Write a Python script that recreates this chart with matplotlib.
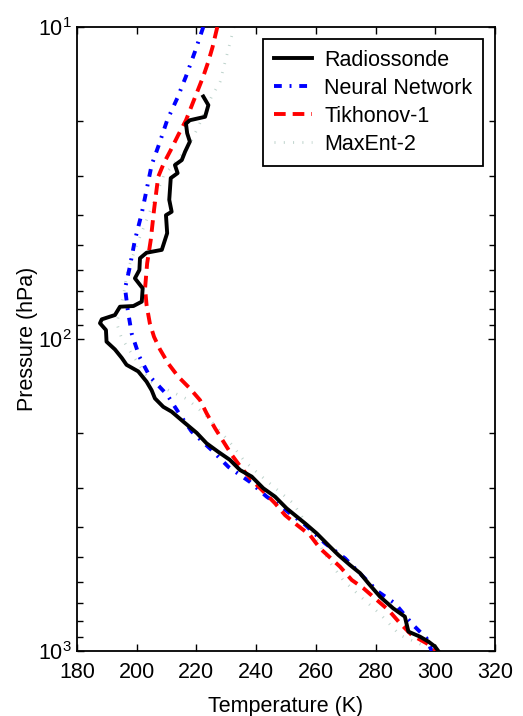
#!/usr/bin/python
# -*- coding: utf-8 -*-
# temperature profile retrieval: radiosonde vs. neural network / Tikhonov / MaxEnt

import numpy as np
import matplotlib as mpl
mpl.use('Agg')
from matplotlib import pyplot as plt
from matplotlib.ticker import FixedLocator, FuncFormatter, LogLocator, NullFormatter

##########################################################################################
# data

radiosonde_T = [222.3, 224.0, 222.9, 217.8, 216.5, 216.9, 217.8, 216.2, 215.1, 212.8,
                213.7, 211.4, 210.9, 211.7, 209.8, 210.2, 208.4, 203.3, 201.1, 200.9,
                199.4, 202.0, 201.7, 198.9, 194.4, 192.7, 188.3, 187.7, 189.7, 189.9,
                192.7, 195.0, 196.6, 200.5, 203.3, 205.0, 206.1, 208.9, 211.7, 215.6,
                220.1, 223.4, 227.3, 231.2, 234.6, 238.5, 242.4, 246.3, 250.2, 253.6,
                256.4, 260.3, 264.7, 267.5, 271.4, 274.8, 277.6, 281.5, 285.9, 289.8,
                291.0, 294.9, 297.7, 299.9, 301.0]
radiosonde_p = [16.7, 17.8, 19.4, 19.9, 20.4, 21.9, 23.3, 25.1, 26.7, 27.7,
                29.4, 30.5, 35.8, 39.1, 40.1, 45.8, 51.8, 52.9, 55.1, 60.1,
                63.9, 68.8, 75.9, 78.4, 78.8, 83.8, 86.5, 89.0, 93.6, 102,
                108, 115, 121, 127, 137, 146, 155, 165, 171, 184,
                200, 216, 230, 244, 263, 276, 301, 320, 349, 371,
                390, 420, 463, 492, 530, 563, 607, 670, 730, 776,
                867, 900, 933, 968, 1000]

nn_T = [222.3, 219.5, 216.5, 213.6, 210.2, 207.6, 205.0, 203.3, 201.7, 199.4,
        197.7, 196.1, 197.0, 198.3, 200.9, 204.4, 210.2, 214.5, 218.4, 225.1,
        230.7, 237.9, 243.5, 249.1, 256.4, 263.1, 269.8, 275.3, 280.9, 286.5,
        292.6, 297.1, 298.8]
nn_p = [10, 12, 14.4, 16.9, 19.9, 23.6, 27.7, 33.3, 39.5, 48.2,
        58.7, 68.8, 80.7, 95.9, 114, 132, 151, 175, 198, 227,
        257, 287, 320, 349, 394, 452, 505, 571, 646, 704,
        826, 911, 1000]

tik_T = [227.0, 225.4, 224.0, 222.3, 220.3, 216.5, 213.9, 211.4, 209.1, 207.2,
         206.5, 205.8, 204.7, 203.5, 202.8, 203.3, 204.4, 205.8, 207.8, 210.6,
         213.9, 217.8, 221.2, 223.4, 226.2, 229.0, 231.8, 235.2, 238.5, 242.4,
         246.3, 249.7, 253.6, 258.0, 261.4, 268.1, 272.0, 275.9, 280.4, 284.3,
         288.2, 292.1, 297.1, 300.5]
tik_p = [10, 11.6, 12.9, 14.4, 16.1, 19.9, 22.2, 24.8, 27.3, 30.2,
         34.1, 38.6, 48.2, 57.2, 68.8, 77.8, 89.1, 98.4, 108, 120,
         132, 144, 157, 173, 193, 213, 235, 260, 283, 308,
         336, 367, 394, 425, 469, 537, 592, 629, 686, 739,
         815, 889, 945, 1000]

maxent_T = [232.6, 230.1, 227.9, 225.1, 220.6, 217.3, 212.8, 209.0, 204.0, 200.0,
            197.0, 195.5, 193.3, 194.8, 196.8, 200.8, 204.6, 217.0, 223.0, 228.0,
            232.0, 236.2, 243.0, 249.1, 252.4, 259.0, 264.7, 269.2, 274.8, 281.5,
            288.2, 300.2]
maxent_p = [10, 12.4, 15.0, 16.7, 20.9, 24.2, 27.3, 30, 40, 50,
            60, 73, 89, 98.5, 106, 121, 137, 156, 175, 198,
            219, 247, 282, 316, 336, 420, 520, 594, 667, 761,
            890, 1000]

labels = ['Radiossonde', 'Neural Network', 'Tikhonov-1', 'MaxEnt-2']
xticks = [180, 200, 220, 240, 260, 280, 300, 320]
yticks = [10, 100, 1000]

##########################################################################################

def Plot():

    fs = 15.5
    mpl.rc('font', **{'family': 'sans-serif', 'sans-serif': ['Liberation Sans'], 'size': fs})
    mpl.rcParams['xtick.direction'] = 'in'
    mpl.rcParams['ytick.direction'] = 'in'
    mpl.rcParams['xtick.top'] = True
    mpl.rcParams['ytick.right'] = True

    f = plt.figure(figsize = (5.23, 7.16), dpi = 100)
    ax1 = f.add_axes([0.1472, 0.0908, 0.7993, 0.8715])

    ######################################################################################
    # curves
    lw = 2.8
    ax1.plot(radiosonde_T, radiosonde_p, color = 'black', lw = lw, zorder = 4,
             label = labels[0])
    ax1.plot(nn_T, nn_p, color = '#0000ff', lw = lw, zorder = 3,
             linestyle = (0, (2.0, 2.0, 0.5, 2.0)), label = labels[1])
    ax1.plot(tik_T, tik_p, color = '#ff0000', lw = lw, zorder = 3,
             linestyle = (0, (3.0, 1.8)), label = labels[2])
    ax1.plot(maxent_T, maxent_p, color = '#bcd2cb', lw = 2.0, zorder = 2,
             linestyle = (0, (0.35, 3.0)), label = labels[3])

    ######################################################################################
    # axes
    ax1.set_yscale('log')
    ax1.set_xlim(180, 320)
    ax1.set_ylim(1000, 10)
    ax1.xaxis.set_major_locator(FixedLocator(xticks))
    ax1.yaxis.set_major_locator(FixedLocator(yticks))
    ax1.yaxis.set_minor_locator(LogLocator(base = 10, subs = np.arange(2, 10)))
    ax1.yaxis.set_minor_formatter(NullFormatter())
    ax1.yaxis.set_major_formatter(FuncFormatter(
        lambda v, pos: r'$\mathregular{10^{%d}}$' % int(round(np.log10(v)))))

    ax1.tick_params('both', which = 'major', length = 5, width = 1.0, labelsize = fs)
    ax1.tick_params('both', which = 'minor', length = 4, width = 1.0)
    ax1.tick_params(axis = 'x', which = 'major', pad = 8)
    ax1.tick_params(axis = 'y', which = 'major', pad = 4)
    for spine in ax1.spines.values():
        spine.set_linewidth(1.3)

    ax1.set_xlabel('Temperature (K)', fontsize = fs, labelpad = 9)
    ax1.set_ylabel('Pressure (hPa)', fontsize = fs, labelpad = 0)

    ######################################################################################
    # legend
    leg = ax1.legend(loc = 'upper right', fontsize = fs, handlelength = 1.8,
                     handletextpad = 0.55, labelspacing = 0.33, borderpad = 0.5,
                     borderaxespad = 0.55, fancybox = False, framealpha = 1.0,
                     edgecolor = 'black')
    leg.get_frame().set_linewidth(1.3)

    f.savefig('out.png', dpi = 100)
    plt.close()

if __name__ == '__main__':
    Plot()
